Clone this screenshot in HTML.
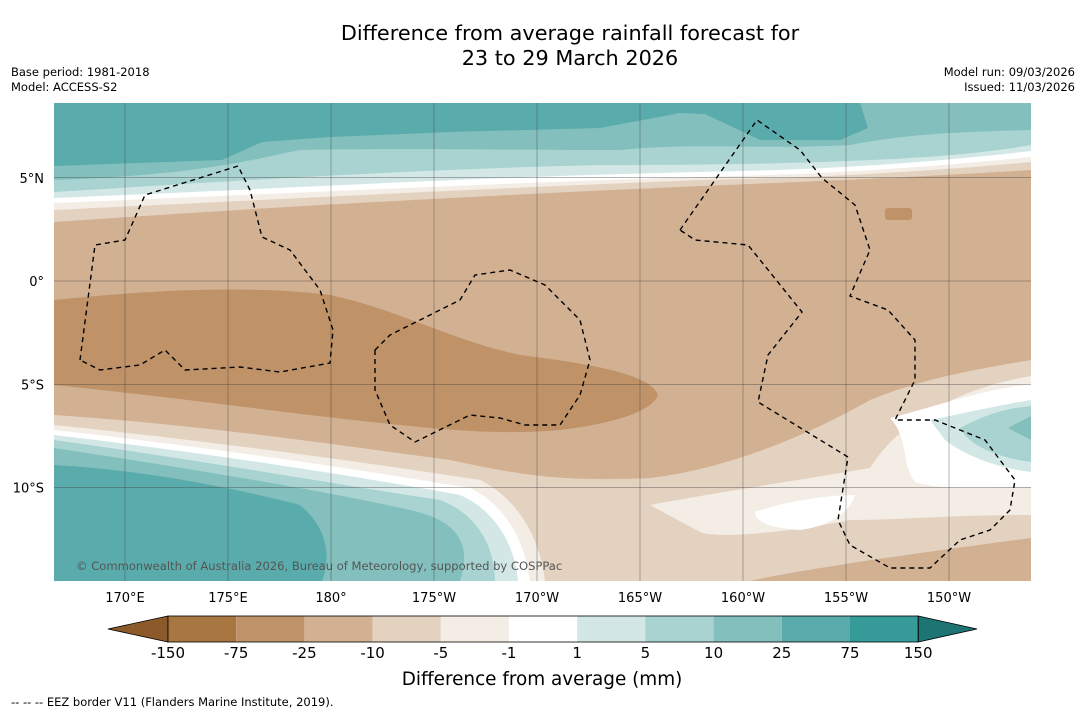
<!DOCTYPE html>
<html><head><meta charset="utf-8">
<style>
body{margin:0;background:#fff;font-family:"DejaVu Sans","Liberation Sans",sans-serif;}
#wrap{position:relative;width:1085px;height:713px;overflow:hidden;background:#fff;}
.t{position:absolute;color:#000;}
svg text{font-family:"DejaVu Sans","Liberation Sans",sans-serif;}
</style></head>
<body>
<div id="wrap">
<div class="t" style="left:0;width:1140px;top:21px;text-align:center;font-size:20.8px;line-height:25px;">Difference from average rainfall forecast for<br>23 to 29 March 2026</div>
<div class="t" style="left:11px;top:65px;font-size:11.5px;line-height:15px;">Base period: 1981-2018<br>Model: ACCESS-S2</div>
<div class="t" style="right:10px;top:65px;font-size:11.5px;line-height:15px;text-align:right;">Model run: 09/03/2026<br>Issued: 11/03/2026</div>
<svg id="svg" width="1085" height="713" style="position:absolute;left:0;top:0">
<defs><clipPath id="mc"><rect x="54" y="103" width="977" height="478"/></clipPath></defs>
<g clip-path="url(#mc)">
<rect x="54" y="103" width="977" height="478" fill="#d2b092"/>
<path fill="#e4d2c0" d="M54,415 C200,425 300,440 450,460 C520,475 560,482 650,478 C720,470 800,440 870,400 C920,380 960,372 1031,360 L1031,581 L54,581 Z"/>
<path fill="#d2b092" d="M750,581 C800,570 900,555 1031,538 L1031,581 Z"/>
<path fill="#f3ede6" d="M650,505 C720,492 800,480 870,468 C900,420 960,388 1031,376 L1031,515 C950,515 900,520 850,520 C800,530 720,540 700,532 Z"/>
<path fill="#fff" d="M890,418 C930,408 980,390 1031,384 L1031,487 C980,488 940,490 915,482 C900,462 910,440 890,418 Z"/>
<path fill="#fff" d="M755,512 C790,500 830,495 855,495 C850,510 835,525 800,530 C770,528 755,522 755,512 Z"/>
<path fill="#d3e8e6" d="M930,420 C970,412 1000,405 1031,400 L1031,472 C990,467 960,452 945,440 Z"/>
<path fill="#a8d3d1" d="M960,428 C990,412 1010,408 1031,406 L1031,462 C1000,458 970,447 960,428 Z"/>
<path fill="#83bfbd" d="M1008,428 L1031,416 L1031,440 Z"/>
<path fill="#e4d2c0" d="M54,103 L1031,103 L1031,170 C900,178 800,182 700,186 C500,195 300,205 54,222 Z"/>
<path fill="#f3ede6" d="M54,103 L1031,103 L1031,162 C900,174 800,178 700,180 C500,188 300,198 54,210 Z"/>
<path fill="#fff" d="M54,103 L1031,103 L1031,157 C900,170 800,175 700,177 C500,183 300,193 54,203 Z"/>
<path fill="#d3e8e6" d="M54,103 L1031,103 L1031,151 C900,166 800,170 700,172 C450,178 300,188 54,198 Z"/>
<path fill="#a8d3d1" d="M54,103 L1031,103 L1031,145 C950,160 800,165 600,165 C400,170 250,180 54,192 Z"/>
<path fill="#83bfbd" d="M54,103 L1031,103 L1031,103 L1031,130 C950,132 900,135 850,145 C760,150 700,142 620,150 C500,150 400,148 300,150 C250,160 200,175 54,180 Z"/>
<path fill="#5aabab" d="M54,103 L860,103 L868,128 L840,140 L760,140 L705,114 L680,113 L600,128 L450,132 L330,137 L262,142 L222,160 L54,166 Z"/>
<path fill="#bf9268" d="M54,300 C150,290 250,285 330,295 C400,310 450,340 520,355 C600,365 650,375 658,395 C650,415 600,425 560,430 C500,435 450,430 400,425 C300,415 200,400 54,385 Z"/>
<rect x="885" y="208" width="27" height="12" rx="3" fill="#bf9268"/>
<path fill="#f3ede6" d="M54,425 C200,440 350,460 480,480 C520,500 540,540 545,581 L54,581 Z"/>
<path fill="#fff" d="M54,430 C200,446 350,468 470,488 C505,505 525,540 530,581 L54,581 Z"/>
<path fill="#d3e8e6" d="M54,435 C200,452 350,475 460,495 C495,510 515,545 518,581 L54,581 Z"/>
<path fill="#a8d3d1" d="M54,440 C200,460 340,485 440,500 C480,515 495,550 495,581 L54,581 Z"/>
<path fill="#83bfbd" d="M54,448 C200,470 330,492 410,510 C465,522 470,550 460,581 L54,581 Z"/>
<path fill="#5aabab" d="M54,465 C150,470 250,492 300,505 C330,530 330,560 322,581 L54,581 Z"/>
<g id="grid" stroke="#444" stroke-width="0.5" stroke-opacity="0.8"></g>
<g fill="none" stroke="#000" stroke-width="1.4" stroke-dasharray="5,4">
<path d="M80,360 L95,245 L125,240 L145,195 L238,166 L250,190 L262,237 L290,250 L320,290 L333,330 L330,363 L280,372 L240,367 L185,370 L165,350 L140,365 L100,370 Z"/>
<path d="M375,350 L390,335 L460,300 L475,275 L510,270 L545,285 L580,320 L590,360 L580,395 L560,425 L525,425 L500,418 L470,415 L415,442 L390,425 L375,390 Z"/>
<path d="M680,230 L757,120 L800,150 L822,178 L855,205 L870,250 L850,296 L888,310 L915,340 L915,380 L895,420 L935,420 L985,440 L1015,480 L1010,510 L990,530 L960,540 L930,568 L890,568 L850,545 L838,520 L848,457 L758,402 L768,355 L802,312 L748,245 L695,240 Z"/>
</g>
</g>
<text x="76" y="570" font-size="11.55" fill="#555">© Commonwealth of Australia 2026, Bureau of Meteorology, supported by COSPPac</text>
<g id="xticks" font-size="13"></g>
<g id="yticks" font-size="13"></g>
<g id="cbar" font-size="15"></g>
<text x="542" y="685" text-anchor="middle" font-size="18.4">Difference from average (mm)</text>
<text x="11" y="706" font-size="11.5">--  --  -- EEZ border V11 (Flanders Marine Institute, 2019).</text>
</svg>
</div>
<script>
const lonLabels=["170°E","175°E","180°","175°W","170°W","165°W","160°W","155°W","150°W"];
const lonValues=[170,175,180,185,190,195,200,205,210];
const latLabels=["5°N","0°","5°S","10°S"];
const latValues=[5,0,-5,-10];
const levelLabels=["-150","-75","-25","-10","-5","-1","1","5","10","25","75","150"];
const levelColors=["#a87640","#bf9268","#d2b092","#e4d2c0","#f3ede6","#ffffff","#d3e8e6","#a8d3d1","#83bfbd","#5aabab","#359a98"];
const underColor="#8c5a2a", overColor="#1e7373";
const NS="http://www.w3.org/2000/svg";
const xS=v=>125+(v-170)*20.6;
const yS=v=>281-v*20.65;
const grid=document.getElementById('grid'),xt=document.getElementById('xticks'),yt=document.getElementById('yticks');
lonValues.forEach((v,i)=>{
 const l=document.createElementNS(NS,'line');
 l.setAttribute('x1',xS(v));l.setAttribute('x2',xS(v));l.setAttribute('y1',103);l.setAttribute('y2',581);
 
 
 grid.appendChild(l);
 const t=document.createElementNS(NS,'text');
 t.setAttribute('x',xS(v));t.setAttribute('y',602);t.setAttribute('text-anchor','middle');t.textContent=lonLabels[i];
 
 
 xt.appendChild(t);
});
latValues.forEach((v,i)=>{
 const l=document.createElementNS(NS,'line');
 l.setAttribute('x1',54);l.setAttribute('x2',1031);l.setAttribute('y1',yS(v));l.setAttribute('y2',yS(v));
 
 
 grid.appendChild(l);
 const t=document.createElementNS(NS,'text');
 t.setAttribute('x',44);t.setAttribute('y',yS(v)+5);t.setAttribute('text-anchor','end');t.textContent=latLabels[i];
 
 
 yt.appendChild(t);
});
const cb=document.getElementById('cbar');
const cx0=168,cw=68.2,cy=616,ch=26;
const under=document.createElementNS(NS,'polygon');
under.setAttribute('points',`108,${cy+ch/2} ${cx0},${cy} ${cx0},${cy+ch}`);under.setAttribute('fill',underColor);under.setAttribute('stroke','#000');under.setAttribute('stroke-width','0.8');


cb.appendChild(under);
levelColors.forEach((c,i)=>{
 const r=document.createElementNS(NS,'rect');
 r.setAttribute('x',cx0+i*cw);r.setAttribute('y',cy);r.setAttribute('width',cw);r.setAttribute('height',ch);r.setAttribute('fill',c);
 
 
 cb.appendChild(r);
});
const xe=cx0+levelColors.length*cw;
const over=document.createElementNS(NS,'polygon');
over.setAttribute('points',`${xe},${cy} 977,${cy+ch/2} ${xe},${cy+ch}`);over.setAttribute('fill',overColor);over.setAttribute('stroke','#000');over.setAttribute('stroke-width','0.8');


cb.appendChild(over);
const fr=document.createElementNS(NS,'rect');
fr.setAttribute('x',cx0);fr.setAttribute('y',cy);fr.setAttribute('width',xe-cx0);fr.setAttribute('height',ch);fr.setAttribute('fill','none');fr.setAttribute('stroke','#000');fr.setAttribute('stroke-width','0.8');


cb.appendChild(fr);
levelLabels.forEach((s,i)=>{
 const t=document.createElementNS(NS,'text');
 t.setAttribute('x',cx0+i*cw);t.setAttribute('y',658);t.setAttribute('text-anchor','middle');t.textContent=s;
 
 
 cb.appendChild(t);
});
</script>
</body></html>
